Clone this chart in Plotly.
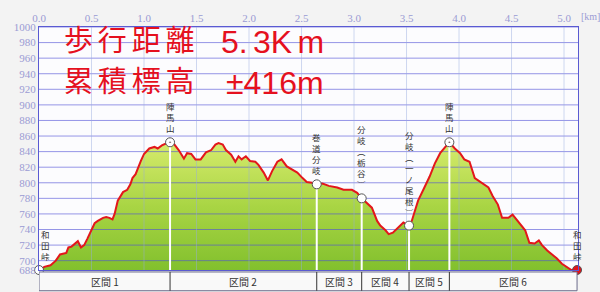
import plotly.graph_objects as go

# ---------------- data ----------------
dist_km = [0.00, 0.02, 0.05, 0.11, 0.16, 0.20, 0.26, 0.28, 0.31, 0.34,
           0.37, 0.40, 0.43, 0.46, 0.50, 0.53, 0.56, 0.61, 0.64, 0.67,
           0.70, 0.72, 0.75, 0.78, 0.80, 0.84, 0.87, 0.89, 0.92, 0.97,
           1.00, 1.05, 1.10, 1.13, 1.17, 1.22, 1.248, 1.29, 1.33, 1.38,
           1.41, 1.45, 1.49, 1.54, 1.59, 1.64, 1.68, 1.71, 1.75, 1.78,
           1.83, 1.87, 1.90, 1.93, 1.97, 2.01, 2.06, 2.09, 2.14, 2.18,
           2.22, 2.27, 2.31, 2.36, 2.41, 2.46, 2.51, 2.55, 2.60, 2.645,
           2.70, 2.76, 2.84, 2.90, 2.98, 3.03, 3.073, 3.12, 3.17, 3.22,
           3.25, 3.30, 3.33, 3.37, 3.42, 3.47, 3.524, 3.55, 3.58, 3.61,
           3.66, 3.72, 3.77, 3.82, 3.87, 3.908, 3.96, 4.01, 4.05, 4.10,
           4.15, 4.21, 4.28, 4.32, 4.37, 4.41, 4.47, 4.51, 4.56, 4.63,
           4.67, 4.72, 4.76, 4.79, 4.84, 4.88, 4.93, 4.98, 5.03, 5.07,
           5.124]

elev_m = [688, 689, 692, 694, 700, 708, 710, 717, 718, 722,
          725, 717, 720, 728, 739, 748, 751, 755, 756, 755,
          753, 760, 777, 784, 788, 791, 798, 806, 811, 828,
          837, 844, 846, 844, 848, 851, 852, 849, 842, 831,
          838, 837, 830, 830, 839, 842, 849, 851, 849, 842,
          836, 827, 834, 830, 834, 828, 827, 823, 813, 803,
          815, 827, 830, 821, 817, 813, 806, 801, 800, 798,
          799, 796, 794, 791, 791, 787, 780, 774, 768, 751,
          745, 739, 734, 736, 743, 749, 745, 751, 764, 777,
          791, 808, 825, 838, 846, 852, 844, 838, 830, 827,
          806, 800, 794, 783, 772, 755, 755, 759, 751, 739,
          723, 722, 726, 720, 713, 709, 703, 696, 692, 688,
          688]

point_names = ["和田峠", "陣馬山", "巻道分岐", "分岐︵栃谷︶", "分岐︵一ノ尾根︶", "陣馬山", "和田峠"]
point_km = [0.0, 1.248, 2.645, 3.073, 3.524, 3.908, 5.124]
point_elev = [688, 852, 798, 780, 745, 852, 688]
point_symbols = ["circle", "circle-dot", "circle", "circle", "circle", "circle-dot", "circle"]
point_colors = ["white", "white", "white", "white", "white", "white", "#e0141c"]

section_labels = ["区間 1", "区間 2", "区間 3", "区間 4", "区間 5", "区間 6"]

y_ticks = [688, 700, 720, 740, 760, 780, 800, 820, 840, 860, 880, 900, 920, 940, 960, 980, 1000]
x_ticks = [0.0, 0.5, 1.0, 1.5, 2.0, 2.5, 3.0, 3.5, 4.0, 4.5, 5.0]
x_tick_text = ["0.0", "0.5", "1.0", "1.5", "2.0", "2.5", "3.0", "3.5", "4.0", "4.5", "5.0"]

title_jp = ["歩行距離", "累積標高"]
title_val = ["5.\u20063K\u2006m", "±416m"]

X_RANGE = [0, 5.133]
Y_RANGE = [688, 1000]
PLOT_H = 246.0  # plot area height in px

TICK_COLOR = "#9b9bd3"
FRAME_COLOR = "#5a5ad2"
RED = "#e5101e"

fig = go.Figure()

# green gradient fill
fig.add_trace(go.Scatter(
    x=dist_km, y=elev_m, mode="lines", line=dict(width=0, color="rgba(0,0,0,0)"),
    fill="tozeroy",
    fillgradient=dict(type="vertical", start=688, stop=858,
                      colorscale=[[0, "#80bf2c"], [0.5, "#a9d544"], [1, "#d8ec6e"]]),
    hoverinfo="skip", showlegend=False))

# grid lines drawn over the fill
gx, gy = [], []
for v in y_ticks[1:]:
    gx += [X_RANGE[0], X_RANGE[1], None]
    gy += [v, v, None]
fig.add_trace(go.Scatter(x=gx, y=gy, mode="lines",
                         line=dict(color="rgba(80,80,215,0.6)", width=1),
                         hoverinfo="skip", showlegend=False))
vx, vy = [], []
for v in x_ticks[1:]:
    vx += [v, v, None]
    vy += [Y_RANGE[0], Y_RANGE[1], None]
fig.add_trace(go.Scatter(x=vx, y=vy, mode="lines",
                         line=dict(color="rgba(150,170,225,0.45)", width=1),
                         hoverinfo="skip", showlegend=False))

# white section lines
sx, sy = [], []
for k, e in zip(point_km[1:-1], point_elev[1:-1]):
    sx += [k, k, None]
    sy += [Y_RANGE[0], e, None]
fig.add_trace(go.Scatter(x=sx, y=sy, mode="lines",
                         line=dict(color="white", width=2),
                         hoverinfo="skip", showlegend=False))

# red profile line
fig.add_trace(go.Scatter(x=dist_km, y=elev_m, mode="lines",
                         line=dict(color="#e3171b", width=2),
                         hoverinfo="skip", showlegend=False))

# markers
fig.add_trace(go.Scatter(x=point_km, y=point_elev, mode="markers",
                         marker=dict(symbol=point_symbols, size=9, color=point_colors,
                                     line=dict(color="#555555", width=1)),
                         cliponaxis=False, hoverinfo="skip", showlegend=False))

annotations = []

# vertical point labels (stacked characters, one text each)
for i, (name, k, e) in enumerate(zip(point_names, point_km, point_elev)):
    xs = 6 if i == 0 else 0
    annotations.append(dict(x=k, y=e, xref="x", yref="y", text="<br>".join(name),
                            showarrow=False, yshift=7, xshift=xs, xanchor="center", yanchor="bottom",
                            borderpad=0,
                            font=dict(family="Noto Sans CJK JP", size=8.5, color="#333333")))

# big red titles
for i, (jp, val) in enumerate(zip(title_jp, title_val)):
    annotations.append(dict(x=0, y=1, xref="paper", yref="paper", text="\u2006".join(jp),
                            showarrow=False, xanchor="left", yanchor="middle",
                            xshift=24, yshift=-13.5 - 41 * i, borderpad=0,
                            font=dict(family="Liberation Sans, Noto Sans CJK JP", size=29, color=RED)))
    annotations.append(dict(x=0, y=1, xref="paper", yref="paper", text=val, showarrow=False,
                            xanchor="left", yanchor="middle", xshift=181 + 5 * i,
                            yshift=-14.5 - 41 * i, borderpad=0,
                            font=dict(family="Liberation Sans", size=32, color=RED)))

# km unit label
annotations.append(dict(x=1, y=1, xref="paper", yref="paper", text="[km]", showarrow=False,
                        xanchor="left", yanchor="middle", xshift=1, yshift=11,
                        font=dict(family="Liberation Serif", size=10, color=TICK_COLOR)))

# section bar
shapes = []
bar_top = -2 / PLOT_H
bar_bot = -21 / PLOT_H
shapes.append(dict(type="rect", xref="x", yref="paper", x0=point_km[0], x1=point_km[-1],
                   y0=bar_bot, y1=bar_top, fillcolor="#f9f9f9",
                   line=dict(color="#6a6a8a", width=1), layer="above"))
for k in point_km[1:-1]:
    shapes.append(dict(type="line", xref="x", yref="paper", x0=k, x1=k, y0=bar_bot, y1=bar_top,
                       line=dict(color="#333333", width=1), layer="above"))
for lab, a, b in zip(section_labels, point_km[:-1], point_km[1:]):
    annotations.append(dict(x=(a + b) / 2, y=(bar_top + bar_bot) / 2, xref="x", yref="paper",
                            text=lab, showarrow=False, xanchor="center", yanchor="middle",
                            font=dict(family="Noto Sans CJK JP", size=10, color="#333333")))

fig.update_layout(
    width=600, height=292,
    margin=dict(l=39, r=22, t=24, b=22, pad=0),
    paper_bgcolor="#f3f3f3", plot_bgcolor="#fcfcfe",
    showlegend=False,
    annotations=annotations, shapes=shapes,
    xaxis=dict(range=X_RANGE, side="top", tickvals=x_ticks, ticktext=x_tick_text,
               showgrid=False, zeroline=False, showline=True, mirror=True,
               linecolor=FRAME_COLOR, linewidth=1, ticks="",
               tickfont=dict(family="Liberation Serif", size=11, color=TICK_COLOR),
               fixedrange=True),
    yaxis=dict(range=Y_RANGE, tickvals=y_ticks, showgrid=False, zeroline=False,
               showline=True, mirror=True, linecolor=FRAME_COLOR, linewidth=1, ticks="",
               tickfont=dict(family="Liberation Serif", size=11, color=TICK_COLOR),
               fixedrange=True),
)

fig.write_html("out.html")
